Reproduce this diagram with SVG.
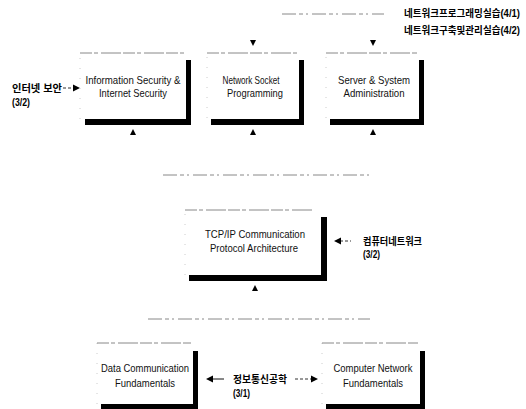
<svg xmlns="http://www.w3.org/2000/svg" width="526" height="409" viewBox="0 0 526 409">
<style>
.bg{fill:#fff}
.top{stroke:#888;stroke-width:1;stroke-dasharray:12 2 4 3 20 2;fill:none}
.left{stroke:#ccc;stroke-width:1;stroke-dasharray:1 9;fill:none}
.sh{fill:#000}
.t{font-family:"Liberation Sans",Arial,sans-serif;font-size:11px;fill:#111;text-anchor:middle}
.k{font-family:"Liberation Sans","Noto Sans CJK KR",sans-serif;font-size:10px;font-weight:bold;fill:#000}
.ln{stroke:#888;stroke-width:1;fill:none;stroke-dasharray:14 3 4 3 2 4}
.dash{stroke:#333;stroke-width:1;fill:none;stroke-dasharray:3 2}
.sol{stroke:#111;stroke-width:1;fill:none}
.ah{fill:#000}
</style>
<g id="connectors">
  <line class="ln" x1="282" y1="14" x2="384" y2="14"/>
  <line class="ln" x1="163" y1="175" x2="370" y2="175"/>
  <line class="ln" x1="148" y1="319" x2="370" y2="319"/>
  <path class="ah" d="M250,40 L256,40 L253,46 Z"/>
  <path class="ah" d="M370,40 L376,40 L373,46 Z"/>
  <path class="ah" d="M130,135 L136,135 L133,129 Z"/>
  <path class="ah" d="M250,135 L256,135 L253,129 Z"/>
  <path class="ah" d="M370,135 L376,135 L373,129 Z"/>
  <path class="ah" d="M252,291 L258,291 L255,285 Z"/>
  <line class="dash" x1="63" y1="88" x2="73" y2="88"/>
  <path class="ah" d="M73,84.5 L80,88 L73,91.5 Z"/>
  <line class="dash" x1="340" y1="241" x2="351" y2="241"/>
  <path class="ah" d="M341,237.5 L334,241 L341,244.5 Z"/>
  <line class="sol" x1="212" y1="379" x2="224" y2="379"/>
  <path class="ah" d="M213,375.5 L206,379 L213,382.5 Z"/>
  <line class="dash" x1="295" y1="379" x2="311" y2="379"/>
  <path class="ah" d="M311,375.5 L318,379 L311,382.5 Z"/>
</g>
<g id="node-infosec">
  <rect class="bg" x="80" y="53" width="106" height="66"/>
  <path class="left" d="M80,119 V53"/>
  <path class="top" d="M80,53 H184"/>
  <path class="sh" d="M186,60 H191 V125 H85 V119 H186 Z"/>
  <text class="t" x="133" y="84" textLength="95" lengthAdjust="spacingAndGlyphs">Information Security &amp;</text>
  <text class="t" x="133" y="97" textLength="68" lengthAdjust="spacingAndGlyphs">Internet Security</text>
</g>
<g id="node-socket">
  <rect class="bg" x="207" y="53" width="92" height="65"/>
  <path class="left" d="M207,118 V53"/>
  <path class="top" d="M207,53 H297"/>
  <path class="sh" d="M299,60 H304 V125 H211 V119 H299 Z"/>
  <text class="t" x="251" y="84" textLength="57" lengthAdjust="spacingAndGlyphs">Network Socket</text>
  <text class="t" x="255" y="97" textLength="56" lengthAdjust="spacingAndGlyphs">Programming</text>
</g>
<g id="node-server">
  <rect class="bg" x="326" y="53" width="93" height="65"/>
  <path class="left" d="M326,118 V53"/>
  <path class="top" d="M326,53 H417"/>
  <path class="sh" d="M419,60 H424 V125 H330 V119 H419 Z"/>
  <text class="t" x="374" y="84" textLength="72" lengthAdjust="spacingAndGlyphs">Server &amp; System</text>
  <text class="t" x="374" y="97" textLength="61" lengthAdjust="spacingAndGlyphs">Administration</text>
</g>
<g id="node-tcpip">
  <rect class="bg" x="185" y="210" width="137" height="65"/>
  <path class="left" d="M185,275 V210"/>
  <path class="top" d="M185,210 H312"/>
  <path class="sh" d="M321,217 H327 V281 H189 V275 H321 Z"/>
  <text class="t" x="255" y="238" textLength="100" lengthAdjust="spacingAndGlyphs">TCP/IP Communication</text>
  <text class="t" x="254" y="252" textLength="88" lengthAdjust="spacingAndGlyphs">Protocol Architecture</text>
</g>
<g id="node-datacomm">
  <rect class="bg" x="97" y="343" width="96" height="61"/>
  <path class="left" d="M97,404 V343"/>
  <path class="top" d="M97,343 H191"/>
  <path class="sh" d="M193,351 H198 V409 H101 V404 H193 Z"/>
  <text class="t" x="145" y="372" textLength="88" lengthAdjust="spacingAndGlyphs">Data Communication</text>
  <text class="t" x="145" y="387" textLength="60" lengthAdjust="spacingAndGlyphs">Fundamentals</text>
</g>
<g id="node-compnet">
  <rect class="bg" x="322" y="343" width="98" height="61"/>
  <path class="left" d="M322,404 V343"/>
  <path class="top" d="M322,343 H418"/>
  <path class="sh" d="M420,351 H425 V409 H326 V404 H420 Z"/>
  <text class="t" x="373" y="372" textLength="79" lengthAdjust="spacingAndGlyphs">Computer Network</text>
  <text class="t" x="373" y="387" textLength="60" lengthAdjust="spacingAndGlyphs">Fundamentals</text>
</g>
<g id="labels">
  <text class="k" x="404" y="17" textLength="116" lengthAdjust="spacingAndGlyphs">네트워크프로그래밍실습(4/1)</text>
  <text class="k" x="404" y="34" textLength="116" lengthAdjust="spacingAndGlyphs">네트워크구축및관리실습(4/2)</text>
  <text class="k" x="12" y="92" textLength="50" lengthAdjust="spacingAndGlyphs">인터넷 보안</text>
  <text class="k" x="12" y="106" textLength="18" lengthAdjust="spacingAndGlyphs">(3/2)</text>
  <text class="k" x="363" y="245" textLength="59" lengthAdjust="spacingAndGlyphs">컴퓨터네트워크</text>
  <text class="k" x="363" y="258" textLength="17" lengthAdjust="spacingAndGlyphs">(3/2)</text>
  <text class="k" x="233" y="383" textLength="54" lengthAdjust="spacingAndGlyphs">정보통신공학</text>
  <text class="k" x="233" y="397" textLength="17" lengthAdjust="spacingAndGlyphs">(3/1)</text>
</g>
</svg>
